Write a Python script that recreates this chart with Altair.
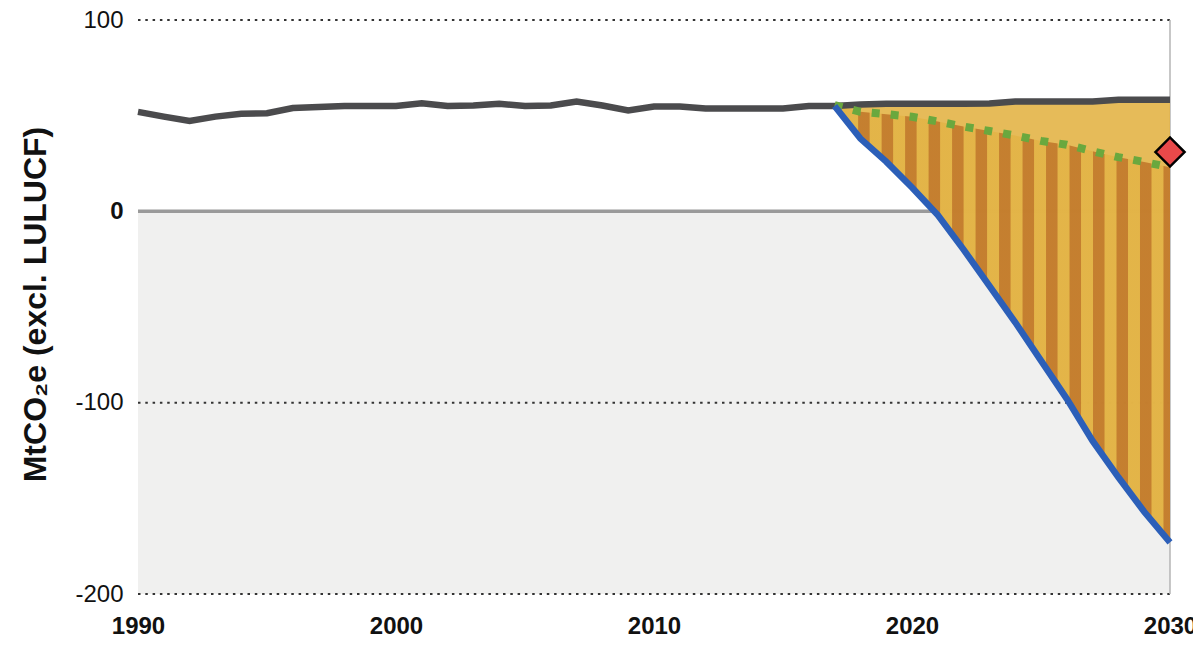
import altair as alt
import pandas as pd

# ---------------- data ----------------
hist_years = list(range(1990, 2018))
hist_values = [52.0, 49.5, 47.2, 49.5, 51.0, 51.3, 54.0, 54.5, 55.0, 55.0,
               55.0, 56.5, 55.0, 55.3, 56.2, 55.0, 55.3, 57.4, 55.3, 52.7,
               54.8, 54.8, 53.8, 53.8, 53.8, 53.8, 55.0, 55.0]

proj_years = list(range(2017, 2031))
baseline = [55.0, 55.8, 56.2, 56.2, 56.2, 56.2, 56.4, 57.4, 57.4, 57.4,
            57.4, 58.3, 58.3, 58.3]
target = [55.5, 52.0, 50.8, 49.4, 47.0, 44.3, 42.0, 39.6, 36.8, 34.8,
          31.4, 28.3, 25.8, 23.0]
pathway = [55.0, 38.0, 26.0, 12.5, -2.0, -20.0, -39.0, -58.0, -78.0, -98.0,
           -120.0, -139.0, -157.0, -173.0]

marker_year = [2030]
marker_value = [31.0]

grid_values = [100, -100, -200]
y_ticks = [-200, -100, 0, 100]
x_ticks = [1990, 2000, 2010, 2020, 2030]

# ---------------- tables ----------------
line_df = pd.DataFrame({
    "year": hist_years + proj_years[1:],
    "value": hist_values + baseline[1:],
})
proj_df = pd.DataFrame({
    "year": proj_years, "baseline": baseline,
    "target": target, "pathway": pathway,
})
marker_df = pd.DataFrame({"year": marker_year, "value": marker_value})
grid_df = pd.DataFrame({"value": grid_values})
band_df = pd.DataFrame({"top": [0], "bottom": [min(y_ticks)]})
zero_df = pd.DataFrame({"value": [0]})
edge_df = pd.DataFrame({"year": [max(x_ticks)]})

FONT = "Liberation Sans"
W, H = 1032, 574

xscale = alt.Scale(domain=[1990, 2030], nice=False, zero=False)
yscale = alt.Scale(domain=[-200, 100], nice=False, zero=False)

X_AXIS = alt.Axis(
    values=x_ticks, format="d", title=None, domain=False, ticks=False,
    grid=False, labelFont=FONT, labelFontSize=24, labelFontWeight="bold",
    labelColor="#111111", labelPadding=20, labelFlush=False,
)
Y_AXIS = alt.Axis(
    values=y_ticks, title="MtCO₂e (excl. LULUCF)",
    labelExpr="'' + datum.value",
    domain=False, ticks=False, grid=False,
    labelFont=FONT, labelFontSize=24, labelColor="#111111",
    labelFontWeight={"condition": {"test": "datum.value === 0", "value": "bold"},
                     "value": "normal"},
    labelPadding=15,
    titleFont=FONT, titleFontSize=32, titleFontWeight="bold",
    titleColor="#111111", titleAngle=270, titleX=-103, titleY=284,
    titleAlign="center", titleBaseline="middle",
)

X = alt.X("year:Q", scale=xscale, axis=X_AXIS)


def Y(field):
    return alt.Y(field, scale=yscale, axis=Y_AXIS)


# ---------------- stripe gradient (style only) ----------------
span = 335.0
start = 23.0 / span
period = 23.46 / span
dark = 12.5 / span
soft = 1.0 / span
DARK = "#c27a2c"
LIGHT = "#e3b447"
stops = [alt.GradientStop(color=LIGHT, offset=0.0)]
s = start
while s < 1.0:
    a = s
    b = min(s + soft, 1.0)
    c = min(s + dark - soft, 1.0)
    d = min(s + dark, 1.0)
    stops.append(alt.GradientStop(color=LIGHT, offset=round(a, 5)))
    stops.append(alt.GradientStop(color=DARK, offset=round(b, 5)))
    stops.append(alt.GradientStop(color=DARK, offset=round(c, 5)))
    if d < 1.0:
        stops.append(alt.GradientStop(color=LIGHT, offset=round(d, 5)))
    s += period
stripe_fill = alt.Gradient(gradient="linear", stops=stops, x1=0, x2=1, y1=0, y2=0)

# ---------------- layers ----------------
background = alt.Chart(band_df).mark_rect(color="#f0f0ef").encode(
    x=alt.value(0), x2=alt.value(W),
    y=Y("top:Q"), y2="bottom:Q",
)

grid = alt.Chart(grid_df).mark_rule(
    color="#333333", strokeWidth=2, strokeDash=[2.5, 4.8]
).encode(y=Y("value:Q"), x=alt.value(0), x2=alt.value(W))

zero = alt.Chart(zero_df).mark_rule(color="#9a9a9a", strokeWidth=3.5).encode(
    y=Y("value:Q"), x=alt.value(0), x2=alt.value(W),
)

right_edge = alt.Chart(edge_df).mark_rule(color="#b5b5b5", strokeWidth=1.5).encode(
    x=X, y=alt.value(0), y2=alt.value(H),
)

gap_area = alt.Chart(proj_df).mark_area(color="#e3b447", opacity=0.9).encode(
    x=X, y=Y("baseline:Q"), y2="pathway:Q",
)

stripe_area = alt.Chart(proj_df).mark_area(color=stripe_fill, opacity=0.92).encode(
    x=X, y=Y("target:Q"), y2="pathway:Q",
)

gray_line = alt.Chart(line_df).mark_line(color="#4b4b4d", strokeWidth=6.5).encode(
    x=X, y=Y("value:Q"),
)

green_line = alt.Chart(proj_df).mark_line(
    color="#6aa83e", strokeWidth=8, strokeDash=[8, 11]
).encode(x=X, y=Y("target:Q"))

blue_line = alt.Chart(proj_df).mark_line(color="#2c5fb8", strokeWidth=6.5).encode(
    x=X, y=Y("pathway:Q"),
)

diamond = alt.Chart(marker_df).mark_point(
    shape="diamond", filled=True, size=850, color="#e8494a",
    stroke="black", strokeWidth=2.5, opacity=1,
).encode(x=X, y=Y("value:Q"))

chart = alt.layer(
    background, grid, zero, right_edge, gap_area, stripe_area,
    gray_line, green_line, blue_line, diamond,
).properties(
    width=W, height=H,
    autosize=alt.AutoSizeParams(type="none"),
    padding={"left": 130, "top": 12, "right": 23, "bottom": 44},
).configure_view(stroke=None)

chart.save("out.html", embed_options={"renderer": "svg", "actions": False})
